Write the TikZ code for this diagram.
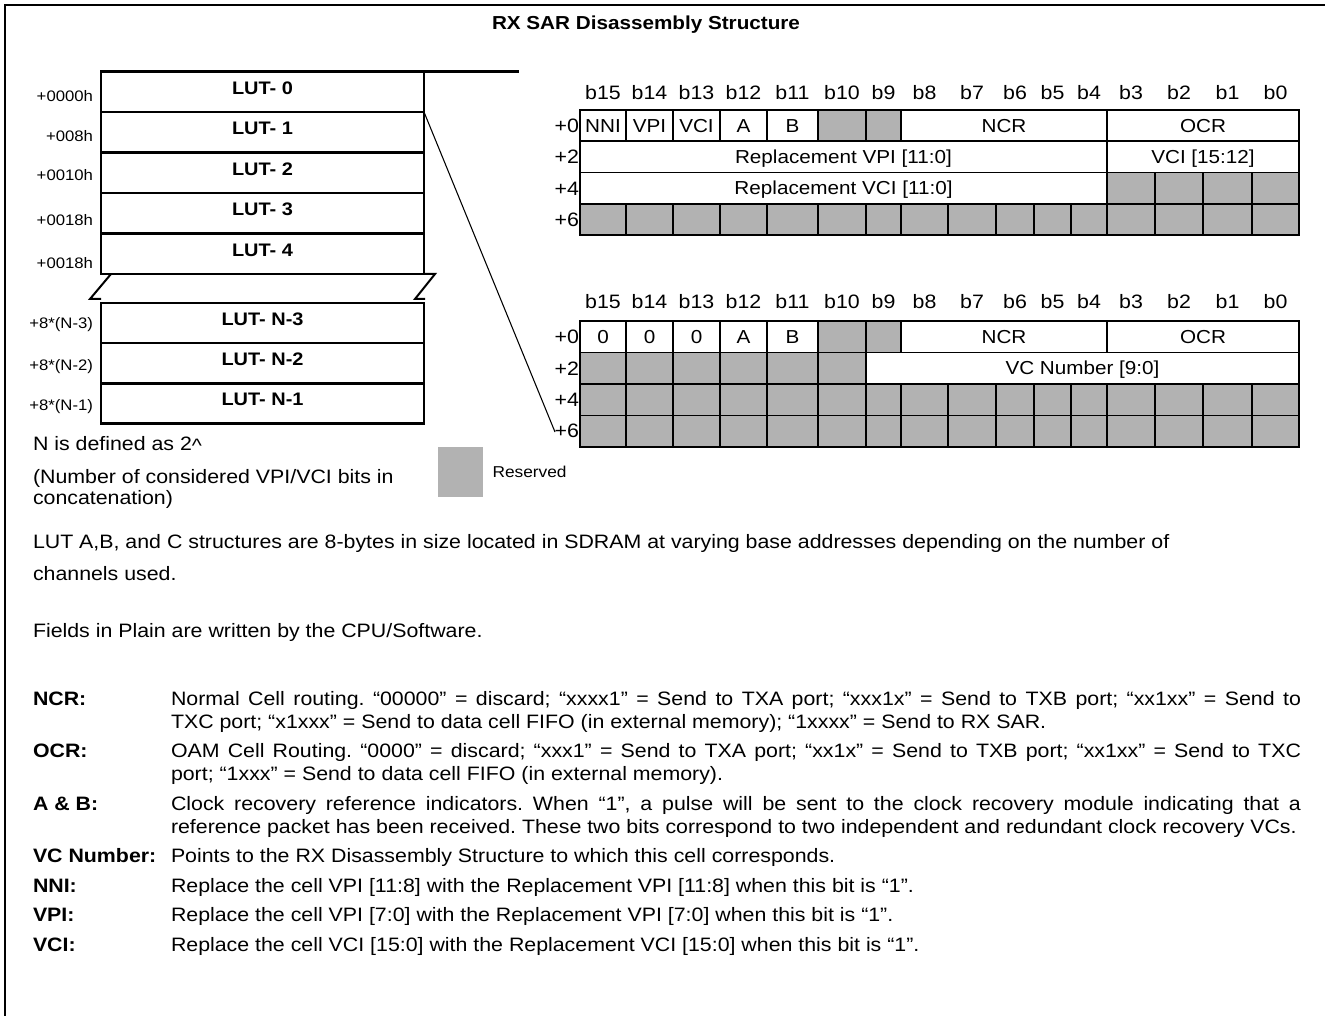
\documentclass[tikz,border=0pt]{standalone}
\usepackage{fontspec}
\setmainfont[FakeStretch=1.1]{Liberation Sans}
\frenchspacing
\definecolor{resgray}{RGB}{178,178,178}
\newcommand{\colxof}[1]{\ifcase#1 580\or 626\or 673\or 720\or 767\or 818\or 866\or 901\or 948\or 996\or 1034\or 1071\or 1107\or 1155\or 1203\or 1252\or 1299\fi}
\newcommand{\tcell}[7]{%
  \edef\tcxl{\colxof{#2}}%
  \edef\tcxr{\colxof{#3}}%
  \pgfmathsetmacro{\tcwd}{(\tcxr-\tcxl)*0.75}%
  \pgfmathsetmacro{\tcht}{(#5-#4)*0.75}%
  \pgfmathsetmacro{\tcxm}{(\tcxl+\tcxr)/2}%
  \node[#6, minimum width=\tcwd pt, minimum height=\tcht pt] (#1) at (\tcxm,{(#4+#5)/2}) {#7};%
}
\begin{document}
\frenchspacing
\begin{tikzpicture}[x=0.75pt,y=-0.75pt,
  every node/.style={inner sep=0pt, outer sep=0pt},
  cellw/.style={draw, line width=1.1pt, fill=white, font=\fontsize{14.1}{16}\selectfont, text height=12pt, text depth=2pt},
  cellg/.style={cellw, fill=resgray},
  hdr/.style={font=\fontsize{14.55}{16}\selectfont},
  rowl/.style={anchor=east, font=\fontsize{14.55}{16}\selectfont},
  lutbox/.style={draw, line width=1.8pt, minimum width=242.25pt, font=\bfseries\fontsize{13.6}{16}\selectfont, text height=10.5pt, text depth=7.1pt},
  addr/.style={anchor=east, font=\fontsize{11.4}{14}\selectfont},
  body/.style={anchor=base west, font=\fontsize{14.55}{17.25}\selectfont\frenchspacing},
  lbl/.style={anchor=base west, font=\bfseries\fontsize{14.55}{17.25}\selectfont},
  lutline/.style={line width=1.8pt},
  tabborder/.style={line width=1.5pt}
]
\useasboundingbox (0,0) rectangle (1325,1016);
% frame
\draw[line width=1.8pt] (5,1016) -- (5,5) -- (1325,5);
% title
\node[font=\bfseries\fontsize{14.1}{16}\selectfont] (title) at (646,25) {RX SAR Disassembly Structure};

% LUT stack (upper)
\node[lutbox, minimum height=30.375pt] (lut0) at (262.5,91.75) {LUT- 0};
\node[lutbox, minimum height=30.375pt] (lut1) at (262.5,132.25) {LUT- 1};
\node[lutbox, minimum height=30.375pt] (lut2) at (262.5,172.75) {LUT- 2};
\node[lutbox, minimum height=30.375pt] (lut3) at (262.5,213.25) {LUT- 3};
\node[lutbox, minimum height=30.375pt] (lut4) at (262.5,253.75) {LUT- 4};
% LUT stack (lower)
\node[lutbox, minimum height=30.15pt] (lutn3) at (262.5,323.1) {LUT- N-3};
\node[lutbox, minimum height=30.15pt] (lutn2) at (262.5,363.3) {LUT- N-2};
\node[lutbox, minimum height=30.15pt] (lutn1) at (262.5,403.5) {LUT- N-1};
% break marks
\draw[line width=1.5pt] (lut4.south west) ++(10,0) -- ++(-21,25) -- ++(11,0);
\draw[line width=1.5pt] (lut4.south east) -- ++(11,0) -- ++(-20,25) -- ++(10,0);
% addresses
\node[addr] (a0) at (93,96) {+0000h};
\node[addr] (a1) at (93,136) {+008h};
\node[addr] (a2) at (93,175) {+0010h};
\node[addr] (a3) at (93,220) {+0018h};
\node[addr] (a4) at (93,263) {+0018h};
\node[addr] (an3) at (93,325) {+8*(N-3)};
\node[addr] (an2) at (93,367) {+8*(N-2)};
\node[addr] (an1) at (93,407) {+8*(N-1)};

% connectors from LUT stack
\coordinate (topend) at (519,71.5);
\draw[lutline] (lut0.north east) -- (topend);
\coordinate (diagend) at (555,432);
\draw[line width=0.8pt] (lut1.north east) -- (diagend);

% ---------- headers ----------
\foreach \i [evaluate=\i as \bn using int(15-\i), evaluate=\i as \ii using int(\i+1)] in {0,...,15}{
  \edef\hxa{\colxof{\i}}
  \edef\hxb{\colxof{\ii}}
  \pgfmathsetmacro{\hx}{(\hxa+\hxb)/2}
  \node[hdr] (ha\i) at (\hx,92.5) {b\bn};
  \node[hdr] (hb\i) at (\hx,302) {b\bn};
}
% ---------- Table 1 ----------
\node[rowl] (ra0) at (579,125.5) {+0};
\node[rowl] (ra2) at (579,157) {+2};
\node[rowl] (ra4) at (579,188.5) {+4};
\node[rowl] (ra6) at (579,219.5) {+6};

\tcell{ta0c0}{0}{1}{110}{141}{cellw}{NNI}
\tcell{ta0c1}{1}{2}{110}{141}{cellw}{VPI}
\tcell{ta0c2}{2}{3}{110}{141}{cellw}{VCI}
\tcell{ta0c3}{3}{4}{110}{141}{cellw}{A}
\tcell{ta0c4}{4}{5}{110}{141}{cellw}{B}
\tcell{ta0c5}{5}{6}{110}{141}{cellg}{}
\tcell{ta0c6}{6}{7}{110}{141}{cellg}{}
\tcell{ta0ncr}{7}{12}{110}{141}{cellw}{NCR}
\tcell{ta0ocr}{12}{16}{110}{141}{cellw}{OCR}
\tcell{ta1vpi}{0}{12}{141}{172.5}{cellw}{Replacement VPI [11:0]}
\tcell{ta1vci}{12}{16}{141}{172.5}{cellw}{VCI [15:12]}
\tcell{ta2vci}{0}{12}{172.5}{204}{cellw}{Replacement VCI [11:0]}
\foreach \i [evaluate=\i as \ii using int(\i+1)] in {12,...,15}{
  \tcell{ta2c\i}{\i}{\ii}{172.5}{204}{cellg}{}
}
\foreach \i [evaluate=\i as \ii using int(\i+1)] in {0,...,15}{
  \tcell{ta3c\i}{\i}{\ii}{204}{235.5}{cellg}{}
}
\draw[tabborder] (ta0c0.north west) rectangle (ta3c15.south east);

% ---------- Table 2 ----------
\node[rowl] (rb0) at (579,336.75) {+0};
\node[rowl] (rb2) at (579,368.25) {+2};
\node[rowl] (rb4) at (579,399.75) {+4};
\node[rowl] (rb6) at (579,431.25) {+6};

\tcell{tb0c0}{0}{1}{321}{352.5}{cellw}{0}
\tcell{tb0c1}{1}{2}{321}{352.5}{cellw}{0}
\tcell{tb0c2}{2}{3}{321}{352.5}{cellw}{0}
\tcell{tb0c3}{3}{4}{321}{352.5}{cellw}{A}
\tcell{tb0c4}{4}{5}{321}{352.5}{cellw}{B}
\tcell{tb0c5}{5}{6}{321}{352.5}{cellg}{}
\tcell{tb0c6}{6}{7}{321}{352.5}{cellg}{}
\tcell{tb0ncr}{7}{12}{321}{352.5}{cellw}{NCR}
\tcell{tb0ocr}{12}{16}{321}{352.5}{cellw}{OCR}
\foreach \i [evaluate=\i as \ii using int(\i+1)] in {0,...,5}{
  \tcell{tb1c\i}{\i}{\ii}{352.5}{384}{cellg}{}
}
\tcell{tb1vc}{6}{16}{352.5}{384}{cellw}{VC Number [9:0]}
\foreach \i [evaluate=\i as \ii using int(\i+1)] in {0,...,15}{
  \tcell{tb2c\i}{\i}{\ii}{384}{415.5}{cellg}{}
  \tcell{tb3c\i}{\i}{\ii}{415.5}{447}{cellg}{}
}
\draw[tabborder] (tb0c0.north west) rectangle (tb3c15.south east);

% ---------- notes under LUT ----------
\node[body] (ndef) at (33,450) {N is defined as 2\raisebox{-0.25ex}{\textasciicircum}};
\node[body] (nnum1) at (33,483) {(Number of considered VPI/VCI bits in};
\node[body] (nnum2) at (33,504) {concatenation)};
\node[fill=resgray, minimum width=34.1pt, minimum height=37.5pt] (resbox) at (460.75,472) {};
\node[anchor=west, font=\fontsize{11.8}{14}\selectfont] (restxt) at (492.5,472) {Reserved};

% ---------- text ----------
\node[body] (t1) at (33,548) {LUT A,B, and C structures are 8-bytes in size located in SDRAM at varying base addresses depending on the number of};
\node[body] (t2) at (33,580) {channels used.};
\node[body] (t3) at (33,637) {Fields in Plain are written by the CPU/Software.};

\node[lbl] (ncrl) at (33,705) {NCR:};
\node[body] (ncrt) at (171,705) {\parbox[t]{847.5pt}{\frenchspacing Normal Cell routing. “00000” = discard; “xxxx1” = Send to TXA port; “xxx1x” = Send to TXB port; “xx1xx” = Send to\linebreak TXC port; “x1xxx” = Send to data cell FIFO (in external memory); “1xxxx” = Send to RX SAR.}};
\node[lbl] (ocrl) at (33,757.5) {OCR:};
\node[body] (ocrt) at (171,757.5) {\parbox[t]{847.5pt}{\frenchspacing OAM Cell Routing. “0000” = discard; “xxx1” = Send to TXA port; “xx1x” = Send to TXB port; “xx1xx” = Send to TXC\linebreak port; “1xxx” = Send to data cell FIFO (in external memory).}};
\node[lbl] (abl) at (33,810) {A \& B:};
\node[body] (abt) at (171,810) {\parbox[t]{847.5pt}{\frenchspacing Clock recovery reference indicators. When “1”, a pulse will be sent to the clock recovery module indicating that a\linebreak reference packet has been received. These two bits correspond to two independent and redundant clock recovery VCs.}};
\node[lbl] (vcl) at (33,862.5) {VC Number:};
\node[body] (vct) at (171,862.5) {Points to the RX Disassembly Structure to which this cell corresponds.};
\node[lbl] (nnil) at (33,892) {NNI:};
\node[body] (nnit) at (171,892) {Replace the cell VPI [11:8] with the Replacement VPI [11:8] when this bit is “1”.};
\node[lbl] (vpil) at (33,921.5) {VPI:};
\node[body] (vpit) at (171,921.5) {Replace the cell VPI [7:0] with the Replacement VPI [7:0] when this bit is “1”.};
\node[lbl] (vcil) at (33,951) {VCI:};
\node[body] (vcit) at (171,951) {Replace the cell VCI [15:0] with the Replacement VCI [15:0] when this bit is “1”.};
\end{tikzpicture}
\end{document}
